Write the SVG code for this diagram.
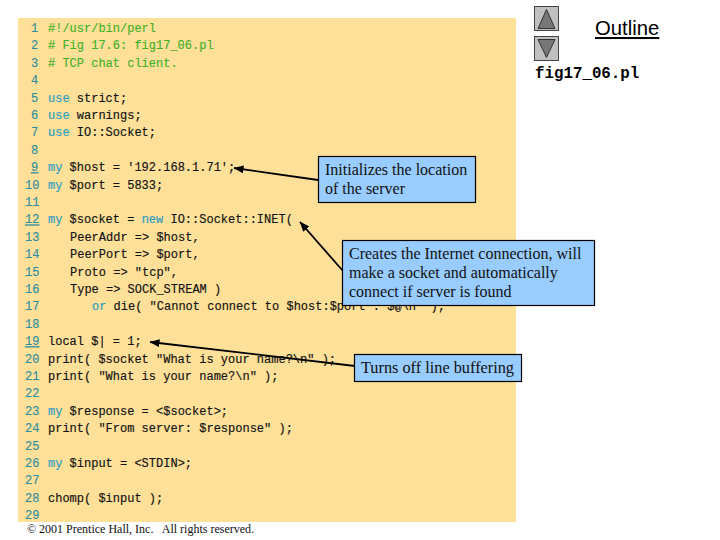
<svg xmlns="http://www.w3.org/2000/svg" width="720" height="540" viewBox="0 0 720 540">
<style>
.code{font-family:"Liberation Mono","Courier New",monospace;font-size:12px;fill:#111;white-space:pre;stroke:#111;stroke-width:.15px}
.n{fill:#2f8ca0;stroke:#2f8ca0}
.c{fill:#3fb028;stroke:#3fb028}
.k{fill:#2b9cc0;stroke:#2b9cc0}
.box{fill:#99ccff;stroke:#000;stroke-width:1.2}
.lab{font-family:"Liberation Serif","Times New Roman",serif;font-size:16px;fill:#111}
.btn{fill:#c0c0c0;stroke:#444;stroke-width:1}
.tri{fill:#777;stroke:#333;stroke-width:1}
.ln{stroke:#000;stroke-width:1.8;fill:none;marker-end:url(#ah)}
</style>
<defs><marker id="ah" viewBox="0 0 10 8" refX="9.5" refY="4" markerUnits="userSpaceOnUse" markerWidth="10" markerHeight="8" orient="auto"><path d="M0 0L10 4L0 8Z" fill="#000"/></marker></defs>
<rect width="720" height="540" fill="#fff"/>
<rect id="panel" x="18" y="18" width="498" height="504" fill="#ffe099"/>
<g id="code" class="code">
<text x="31" y="32" class="n">1</text><text x="48" y="32" class="c">#!/usr/bin/perl</text>
<text x="31" y="49.4" class="n">2</text><text x="48" y="49.4" class="c"># Fig 17.6: fig17_06.pl</text>
<text x="31" y="66.8" class="n">3</text><text x="48" y="66.8" class="c"># TCP chat client.</text>
<text x="31" y="84.2" class="n">4</text>
<text x="31" y="101.6" class="n">5</text><text x="48" y="101.6"><tspan class="k">use</tspan> strict;</text>
<text x="31" y="119" class="n">6</text><text x="48" y="119"><tspan class="k">use</tspan> warnings;</text>
<text x="31" y="136.4" class="n">7</text><text x="48" y="136.4"><tspan class="k">use</tspan> IO::Socket;</text>
<text x="31" y="153.8" class="n">8</text>
<text x="31" y="171.2" class="n" text-decoration="underline">9</text><text x="48" y="171.2"><tspan class="k">my</tspan> $host = '192.168.1.71';</text>
<text x="25" y="188.6" class="n">10</text><text x="48" y="188.6"><tspan class="k">my</tspan> $port = 5833;</text>
<text x="25" y="206" class="n">11</text>
<text x="25" y="223.4" class="n" text-decoration="underline">12</text><text x="48" y="223.4"><tspan class="k">my</tspan> $socket = <tspan class="k">new</tspan> IO::Socket::INET(</text>
<text x="25" y="240.8" class="n">13</text><text x="70" y="240.8">PeerAddr =&gt; $host,</text>
<text x="25" y="258.2" class="n">14</text><text x="70" y="258.2">PeerPort =&gt; $port,</text>
<text x="25" y="275.6" class="n">15</text><text x="70" y="275.6">Proto =&gt; "tcp",</text>
<text x="25" y="293" class="n">16</text><text x="70" y="293">Type =&gt; SOCK_STREAM )</text>
<text x="25" y="310.4" class="n">17</text><text x="92" y="310.4"><tspan class="k">or</tspan> die( "Cannot connect to $host:$port : $@\n" );</text>
<text x="25" y="327.8" class="n">18</text>
<text x="25" y="345.2" class="n" text-decoration="underline">19</text><text x="48" y="345.2">local $| = 1;</text>
<text x="25" y="362.6" class="n">20</text><text x="48" y="362.6">print( $socket "What is your name?\n" );</text>
<text x="25" y="380" class="n">21</text><text x="48" y="380">print( "What is your name?\n" );</text>
<text x="25" y="397.4" class="n">22</text>
<text x="25" y="414.8" class="n">23</text><text x="48" y="414.8"><tspan class="k">my</tspan> $response = &lt;$socket&gt;;</text>
<text x="25" y="432.2" class="n">24</text><text x="48" y="432.2">print( "From server: $response" );</text>
<text x="25" y="449.6" class="n">25</text>
<text x="25" y="467" class="n">26</text><text x="48" y="467"><tspan class="k">my</tspan> $input = &lt;STDIN&gt;;</text>
<text x="25" y="484.4" class="n">27</text>
<text x="25" y="501.8" class="n">28</text><text x="48" y="501.8">chomp( $input );</text>
<text x="25" y="519.2" class="n">29</text>
</g>
<g id="connectors">
<line class="ln" x1="318" y1="180" x2="234" y2="168"/>
<line class="ln" x1="343" y1="271" x2="300" y2="222"/>
<line class="ln" x1="355" y1="366" x2="150" y2="342"/>
</g>
<g id="note-server"><rect class="box" x="318.500" y="156.500" width="157" height="46"/>
<text class="lab" x="325" y="175">Initializes the location</text><text class="lab" x="325" y="194">of the server</text></g>
<g id="note-connection"><rect class="box" x="342.500" y="240.500" width="252" height="65"/>
<text class="lab" x="349" y="259">Creates the Internet connection, will</text><text class="lab" x="349" y="278">make a socket and automatically</text><text class="lab" x="349" y="297">connect if server is found</text></g>
<g id="note-buffering"><rect class="box" x="354.500" y="354.500" width="167" height="27"/>
<text class="lab" x="361" y="373" font-size="16.300" style="font-size:16.300px">Turns off line buffering</text></g>
<g id="btn-up"><rect class="btn" x="534.500" y="6.500" width="24" height="24"/><path class="tri" d="M546.500 9.500L555 28.500H538Z"/></g>
<g id="btn-down"><rect class="btn" x="534.500" y="36.500" width="24" height="24"/><path class="tri" d="M546.500 57.500L555 39.500H538Z"/></g>
<text id="outline" x="595" y="35" font-family="'Liberation Sans',Arial,sans-serif" font-size="20.300" text-decoration="underline" fill="#000">Outline</text>
<text id="filename" x="535" y="78" font-family="'Liberation Mono','Courier New',monospace" font-size="15.800" font-weight="bold" fill="#000">fig17_06.pl</text>
<text id="copyright" x="27" y="533" font-family="'Liberation Serif','Times New Roman',serif" font-size="12" fill="#111" style="white-space:pre">© 2001 Prentice Hall, Inc.   All rights reserved.</text>
</svg>
